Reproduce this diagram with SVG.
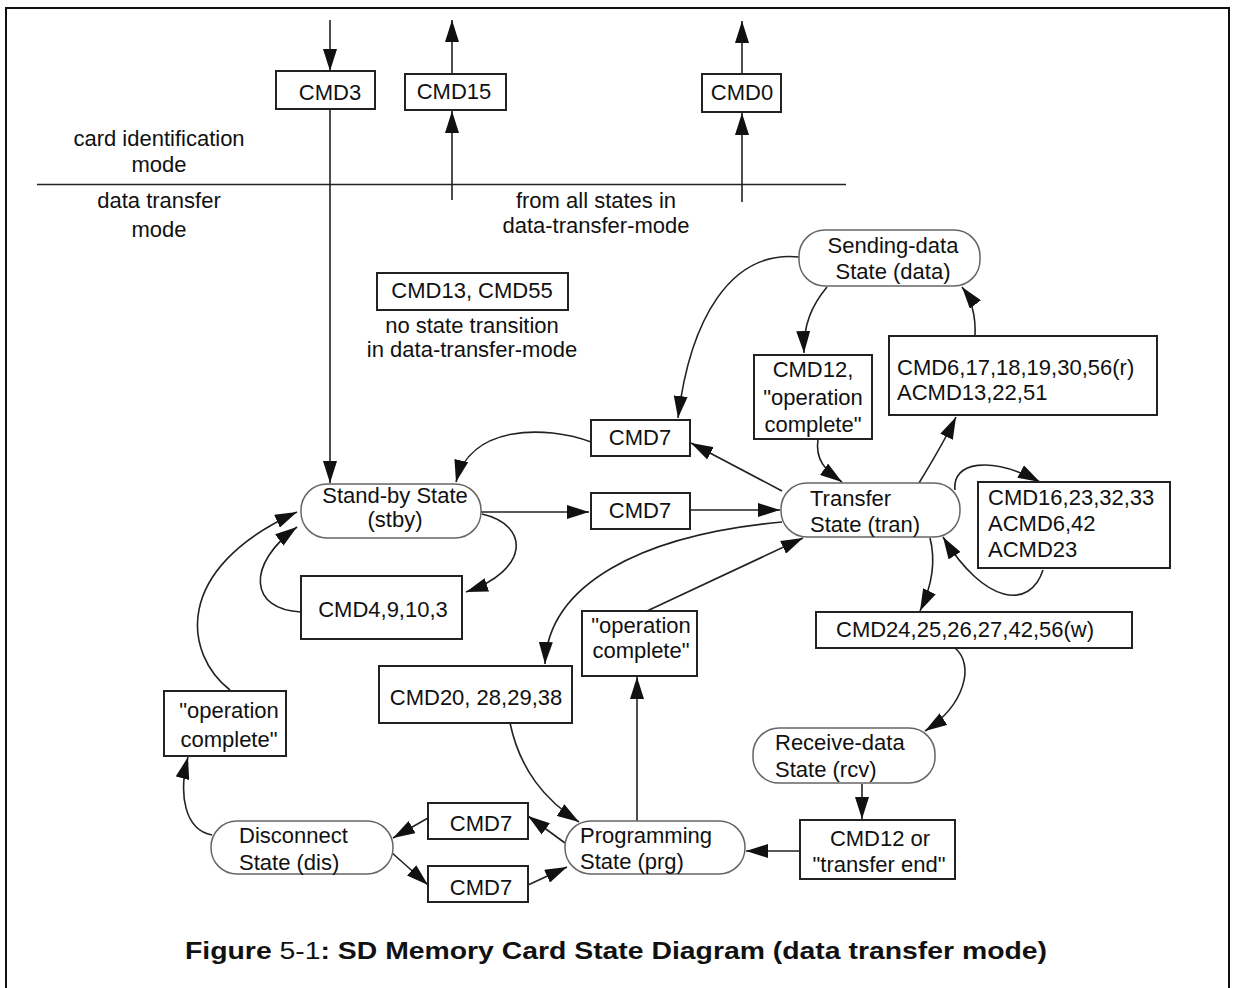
<svg xmlns="http://www.w3.org/2000/svg" width="1233" height="988" viewBox="0 0 1233 988">
<style>
.box{fill:#fff;stroke:#222;stroke-width:2}
.state{fill:#fff;stroke:#666;stroke-width:1.5}
.t{font-family:"Liberation Sans",Arial,sans-serif;font-size:22px;fill:#111}
.c{text-anchor:middle}
.edge{fill:none;stroke:#222;stroke-width:1.6;marker-end:url(#ah)}
.line{fill:none;stroke:#222;stroke-width:1.6}
</style>
<defs>
<marker id="ah" viewBox="0 0 22 14" refX="22" refY="7" markerWidth="22" markerHeight="14" markerUnits="userSpaceOnUse" orient="auto">
<path d="M0,0 L22,7 L0,14 z" fill="#111"/>
</marker>
</defs>
<rect width="1233" height="988" fill="#fff"/>
<path d="M6,988 V8 H1229 V988" fill="none" stroke="#111" stroke-width="2"/>

<g id="labels">
<text class="t c" x="159" y="146">card identification</text>
<text class="t c" x="159" y="172">mode</text>
<text class="t c" x="159" y="208">data transfer</text>
<text class="t c" x="159" y="237">mode</text>
<text class="t c" x="596" y="208">from all states in</text>
<text class="t c" x="596" y="233">data-transfer-mode</text>
<text class="t c" x="472" y="333">no state transition</text>
<text class="t c" x="472" y="357">in data-transfer-mode</text>
</g>

<g id="connectors">
<path class="line" d="M37,184.5 H846"/>
<path class="edge" d="M330,20 V71"/>
<path class="edge" d="M330,109 V483"/>
<path class="edge" d="M452,200 V111"/>
<path class="edge" d="M452,74 V20"/>
<path class="edge" d="M742,202 V113"/>
<path class="edge" d="M742,74 V21"/>
<path class="edge" d="M799,257 C730,250 690,320 678,418"/>
<path class="edge" d="M827,287 C812,305 803,325 804,353"/>
<path class="edge" d="M818,439 C815,460 825,470 842,482"/>
<path class="edge" d="M919,483 C930,465 945,440 956,417"/>
<path class="edge" d="M975,336 C976,315 972,300 962,287"/>
<path class="edge" d="M782,491 L691,443"/>
<path class="edge" d="M591,442 C545,425 470,425 456,482"/>
<path class="edge" d="M481,512 H589"/>
<path class="edge" d="M690,510 H780"/>
<path class="edge" d="M482,514 C530,525 530,570 466,592"/>
<path class="edge" d="M301,612 C250,610 245,565 297,527"/>
<path class="edge" d="M230,690 C185,655 170,570 297,512"/>
<path class="edge" d="M212,835 C185,830 178,795 188,757"/>
<path class="edge" d="M428,818 L393,838"/>
<path class="edge" d="M391,852 L428,885"/>
<path class="edge" d="M528,885 L567,867"/>
<path class="edge" d="M565,843 L528,816"/>
<path class="edge" d="M510,723 C520,770 545,800 579,822"/>
<path class="edge" d="M782,522 C640,535 548,585 545,664"/>
<path class="edge" d="M637,821 V677"/>
<path class="edge" d="M647,611 L803,538"/>
<path class="edge" d="M955,490 C952,462 990,455 1040,482"/>
<path class="edge" d="M1043,570 C1030,610 985,605 943,537"/>
<path class="edge" d="M930,538 C937,565 930,590 920,611"/>
<path class="edge" d="M955,648 C975,665 965,705 925,731"/>
<path class="edge" d="M862,784 V819"/>
<path class="edge" d="M800,851 H746"/>
</g>

<g id="cmd3"><rect class="box" x="276" y="71" width="99" height="38"/><text class="t c" x="330" y="100">CMD3</text></g>
<g id="cmd15"><rect class="box" x="405" y="74" width="101" height="36"/><text class="t c" x="454" y="99">CMD15</text></g>
<g id="cmd0"><rect class="box" x="702" y="74" width="79" height="38"/><text class="t c" x="742" y="100">CMD0</text></g>
<g id="cmd13_55"><rect class="box" x="377" y="273" width="191" height="37"/><text class="t c" x="472" y="298">CMD13, CMD55</text></g>

<g id="sending"><rect class="state" x="799" y="230" width="181" height="56" rx="26"/><text class="t c" x="893" y="253">Sending-data</text><text class="t c" x="893" y="279">State (data)</text></g>
<g id="cmd12_op"><rect class="box" x="754" y="355" width="118" height="84"/><text class="t c" x="813" y="377">CMD12,</text><text class="t c" x="813" y="405">"operation</text><text class="t c" x="813" y="432">complete"</text></g>
<g id="cmd6"><rect class="box" x="889" y="336" width="268" height="79"/><text class="t" x="897" y="375">CMD6,17,18,19,30,56(r)</text><text class="t" x="897" y="400">ACMD13,22,51</text></g>
<g id="cmd7_a"><rect class="box" x="591" y="420" width="99" height="36"/><text class="t c" x="640" y="445">CMD7</text></g>
<g id="standby"><rect class="state" x="301" y="484" width="180" height="54" rx="26"/><text class="t c" x="395" y="503">Stand-by State</text><text class="t c" x="395" y="527">(stby)</text></g>
<g id="cmd7_b"><rect class="box" x="591" y="493" width="99" height="36"/><text class="t c" x="640" y="518">CMD7</text></g>
<g id="transfer"><rect class="state" x="781" y="483" width="179" height="54" rx="26"/><text class="t" x="810" y="506">Transfer</text><text class="t" x="810" y="532">State (tran)</text></g>
<g id="cmd16"><rect class="box" x="978" y="482" width="192" height="86"/><text class="t" x="988" y="505">CMD16,23,32,33</text><text class="t" x="988" y="531">ACMD6,42</text><text class="t" x="988" y="557">ACMD23</text></g>
<g id="cmd4"><rect class="box" x="301" y="576" width="161" height="63"/><text class="t c" x="383" y="617">CMD4,9,10,3</text></g>
<g id="opc_mid"><rect class="box" x="582" y="611" width="115" height="65"/><text class="t c" x="641" y="633">"operation</text><text class="t c" x="641" y="658">complete"</text></g>
<g id="cmd24"><rect class="box" x="816" y="612" width="316" height="36"/><text class="t" x="836" y="637">CMD24,25,26,27,42,56(w)</text></g>
<g id="cmd20"><rect class="box" x="379" y="666" width="193" height="57"/><text class="t c" x="476" y="705">CMD20, 28,29,38</text></g>
<g id="opc_left"><rect class="box" x="164" y="691" width="122" height="65"/><text class="t c" x="229" y="718">"operation</text><text class="t c" x="229" y="747">complete"</text></g>
<g id="receive"><rect class="state" x="753" y="728" width="182" height="55" rx="26"/><text class="t" x="775" y="750">Receive-data</text><text class="t" x="775" y="777">State (rcv)</text></g>
<g id="cmd7_c"><rect class="box" x="428" y="803" width="100" height="36"/><text class="t c" x="481" y="831">CMD7</text></g>
<g id="disconnect"><rect class="state" x="211" y="821" width="182" height="53" rx="26"/><text class="t" x="239" y="843">Disconnect</text><text class="t" x="239" y="870">State (dis)</text></g>
<g id="programming"><rect class="state" x="565" y="821" width="180" height="53" rx="26"/><text class="t" x="580" y="843">Programming</text><text class="t" x="580" y="869">State (prg)</text></g>
<g id="cmd12_or"><rect class="box" x="800" y="820" width="155" height="59"/><text class="t c" x="880" y="846">CMD12 or</text><text class="t c" x="879" y="872">"transfer end"</text></g>
<g id="cmd7_d"><rect class="box" x="428" y="866" width="100" height="36"/><text class="t c" x="481" y="895">CMD7</text></g>

<g id="caption"><text x="185" y="959" font-family="'Liberation Sans',Arial,sans-serif" font-size="24" font-weight="bold" fill="#111" textLength="862" lengthAdjust="spacingAndGlyphs">Figure <tspan font-weight="normal">5-1</tspan>: SD Memory Card State Diagram (data transfer mode)</text></g>
</svg>
